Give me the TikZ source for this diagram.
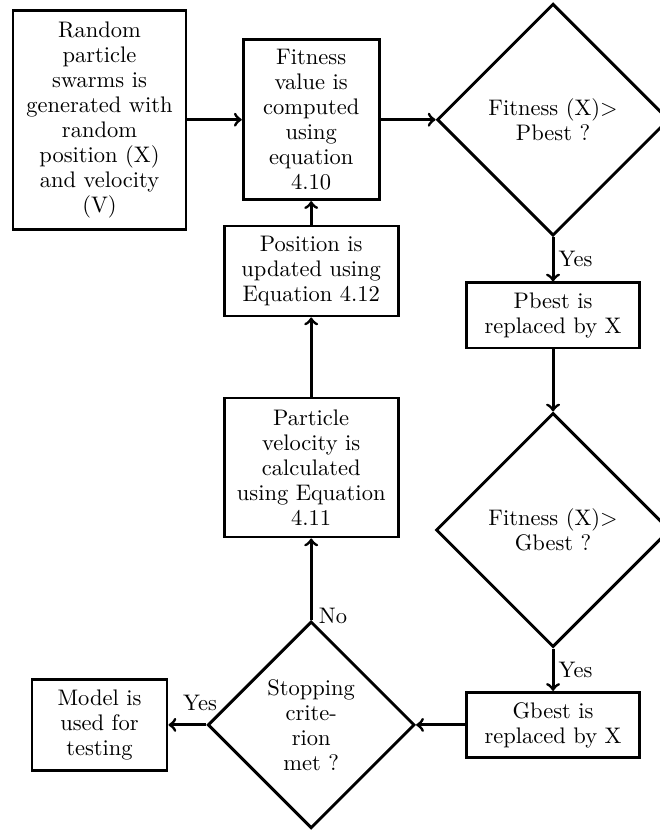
\documentclass[tikz,border=0pt]{standalone}
\usetikzlibrary{shapes,arrows}

\begin{document}
\begin{tikzpicture}[line width=1.4pt, font=\fontsize{10.8pt}{12pt}\selectfont,
  box/.style={draw, align=center, inner sep=2pt},
  cmp/.style={draw, diamond, align=center, inner sep=0pt},
  lbl/.style={inner sep=2pt}]
\useasboundingbox (0,0) rectangle (11.134,14.019);
\node[box, minimum width=2.918cm, minimum height=3.694cm] (rand) at (1.679,12.0) {Random\\ particle\\ swarms is\\ generated with\\ random\\ position (X)\\ and velocity\\ (V)};
\node[box, minimum width=2.294cm, minimum height=2.699cm] (fit) at (5.25,12.0) {Fitness\\ value is\\ computed\\ using\\ equation\\ 4.10};
\node[box, minimum width=2.935cm, minimum height=1.518cm] (pos) at (5.25,9.447) {Position is\\ updated using\\ Equation 4.12};
\node[box, minimum width=2.935cm, minimum height=2.345cm] (vel) at (5.25,6.132) {Particle\\ velocity is\\ calculated\\ using Equation\\ 4.11};
\node[cmp, minimum width=3.914cm, minimum height=3.914cm] (cmp1) at (9.33,12.0) {Fitness (X)>\\ Pbest ?};
\node[box, minimum width=2.918cm, minimum height=1.097cm] (pb) at (9.33,8.697) {Pbest is\\ replaced by X};
\node[cmp, minimum width=3.95cm, minimum height=3.95cm] (cmp2) at (9.33,5.078) {Fitness (X)>\\ Gbest ?};
\node[box, minimum width=2.918cm, minimum height=1.097cm] (gb) at (9.33,1.79) {Gbest is\\ replaced by X};
\node[cmp, minimum width=3.49cm, minimum height=3.49cm] (stop) at (5.25,1.79) {Stopping\\ crite-\\ rion\\ met ?};
\node[box, minimum width=2.277cm, minimum height=1.535cm] (model) at (1.679,1.79) {Model is\\ used for\\ testing};
\draw[->] (rand) -- (fit);
\draw[->] (fit) -- (cmp1);
\draw[->] (cmp1) -- node[lbl, right] {Yes} (pb);
\draw[->] (pb) -- (cmp2);
\draw[->] (cmp2) -- node[lbl, right] {Yes} (gb);
\draw[->] (gb) -- (stop);
\draw[->] (stop) -- node[lbl, pos=0, anchor=base, xshift=-3pt, yshift=7pt] {Yes} (model);
\draw[->] (stop) -- node[lbl, pos=0, anchor=base west, inner sep=3pt, yshift=-1.5pt] {No} (vel);
\draw[->] (vel) -- (pos);
\draw[->] (pos) -- (fit);
\end{tikzpicture}
\end{document}
